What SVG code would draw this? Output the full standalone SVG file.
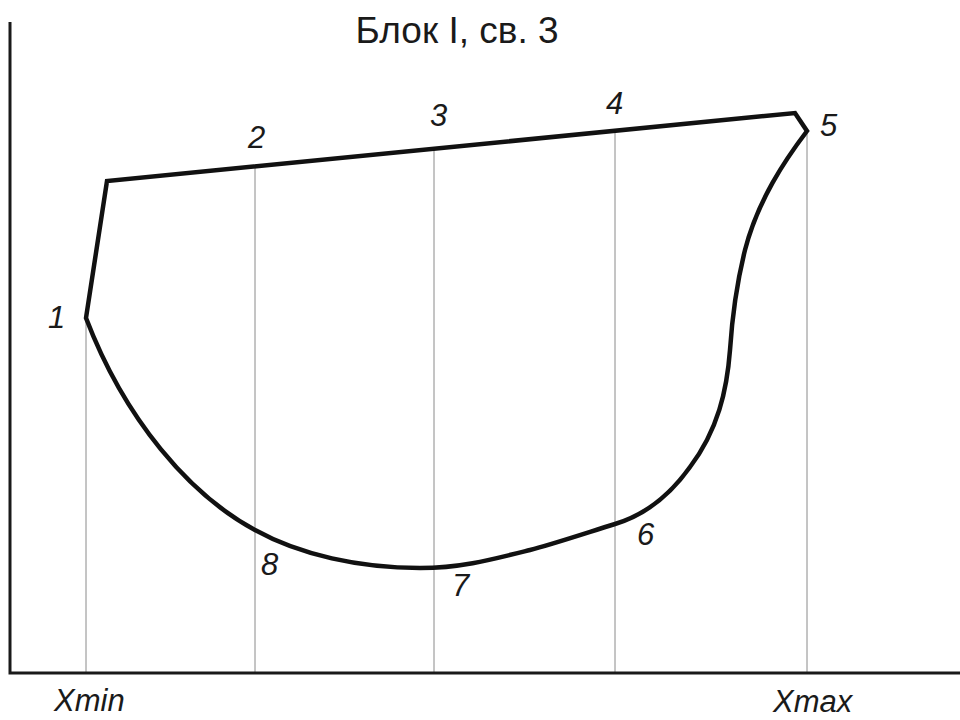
<svg xmlns="http://www.w3.org/2000/svg" width="960" height="720" viewBox="0 0 960 720">
<style>
.lbl{font-family:"Liberation Sans",Arial,sans-serif;font-size:31px;font-style:italic;fill:#1a1a1a}
.title{font-family:"Liberation Sans",Arial,sans-serif;font-size:37px;fill:#1a1a1a}
.grid{stroke:#8a8a8a;stroke-width:1}
.axis{stroke:#1a1a1a;stroke-width:3;fill:none}
.shape{stroke:#111;stroke-width:4.5;fill:none;stroke-linejoin:miter}
</style>
<rect width="960" height="720" fill="#fff"/>
<text class="title" x="457" y="43" text-anchor="middle">Блок I, св. 3</text>
<g id="grid">
<line class="grid" x1="86" y1="318" x2="86" y2="673"/>
<line class="grid" x1="255" y1="167" x2="255" y2="673"/>
<line class="grid" x1="434" y1="149" x2="434" y2="673"/>
<line class="grid" x1="615" y1="131" x2="615" y2="673"/>
<line class="grid" x1="807" y1="131" x2="807" y2="673"/>
</g>
<g id="axes">
<polyline class="axis" points="10,22 10,673 960,673"/>
</g>
<g id="contour">
<path class="shape" d="M86,318 L107,181 L795,113 L807,131 C785,160 758,200 745,250 C735,290 732,320 730,350 C727,390 718,430 690,467 C670,495 645,515 615,524 C580,535 550,545 530,550 C490,560 460,568 420,568 C360,568 300,555 255,530 C190,495 125,420 86,318 Z"/>
</g>
<g id="labels">
<text class="lbl" x="48" y="328">1</text>
<text class="lbl" x="248" y="148">2</text>
<text class="lbl" x="430" y="126">3</text>
<text class="lbl" x="606" y="114">4</text>
<text class="lbl" x="820" y="136">5</text>
<text class="lbl" x="637" y="545">6</text>
<text class="lbl" x="452" y="596">7</text>
<text class="lbl" x="261" y="575">8</text>
<text class="lbl" x="54" y="711">Xmin</text>
<text class="lbl" x="773" y="712">Xmax</text>
</g>
</svg>
